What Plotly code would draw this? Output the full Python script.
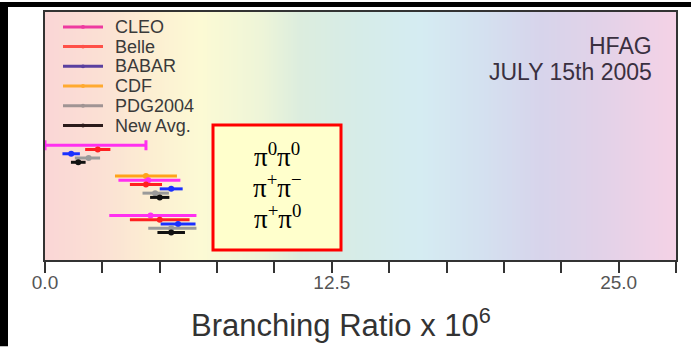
import numpy as np
import plotly.graph_objects as go

# ---- data: B -> pi pi branching ratios (x 10^-6) ----
modes = ["π<sup>0</sup>π<sup>0</sup>", "π<sup>+</sup>π<sup>−</sup>", "π<sup>+</sup>π<sup>0</sup>"]
experiments = ["CLEO", "Belle", "BABAR", "CDF", "PDG2004", "New Avg."]

cleo_val = [None, 4.5, 4.6]
cleo_plus = [0, 1.4, 2.0]
cleo_minus = [0, 1.3, 1.8]
cleo_pi0pi0_limit = 4.4  # upper limit

belle_val = [2.3, 4.4, 5.0]
belle_err = [0.55, 0.7, 1.3]

babar_val = [1.14, 5.5, 5.8]
babar_err = [0.38, 0.5, 0.76]

cdf_val = [None, 4.4, None]
cdf_err = [0, 1.35, 0]

pdg_val = [1.9, 4.8, 5.5]
pdg_plus = [0.5, 0.6, 1.1]
pdg_minus = [0.6, 0.55, 1.0]

avg_val = [1.45, 5.0, 5.5]
avg_err = [0.32, 0.42, 0.6]

# ---- page geometry (pixels) ----
W, H = 691, 347
L, R, T, B = 45, 676, 10, 260
XMAX = 27.5


def px(xp):
    return (xp - L) / (R - L)


def py(yp):
    return (B - yp) / (B - T)


# vertical placement of rows inside each decay-mode block
FIRST_ROW, GROUP_GAP, ROW_GAP = 134.3, 35.4, 4.3
slot = {"CDF": -1, "CLEO": 0, "Belle": 1, "BABAR": 2, "PDG2004": 3, "New Avg.": 4}


def rows(name):
    return [FIRST_ROW + g * GROUP_GAP + slot[name] * ROW_GAP for g in range(len(modes))]


data_colors = {"CLEO": "#ff30f0", "Belle": "#ff2020", "BABAR": "#1a30ff",
               "CDF": "#ffa31a", "PDG2004": "#9a9a9a", "New Avg.": "#111111"}
legend_colors = {"CLEO": "#ee3aa0", "Belle": "#ff5048", "BABAR": "#5a40a0",
                 "CDF": "#ffaa30", "PDG2004": "#a09494", "New Avg.": "#2a1a1a"}

fig = go.Figure()

# pastel rainbow backdrop across the plotting area
bg_stops = [(0.0, (250, 214, 214)), (2.4, (251, 224, 212)), (4.6, (252, 238, 210)),
            (6.75, (252, 250, 212)), (9.4, (238, 245, 216)), (11.1, (220, 237, 222)),
            (13.7, (214, 236, 232)), (16.3, (213, 236, 242)), (19.0, (212, 225, 240)),
            (21.6, (215, 212, 235)), (24.2, (226, 210, 232)), (27.5, (245, 210, 230))]
cscale = [[v / XMAX, "rgb(%d,%d,%d)" % c] for v, c in bg_stops]
bx = np.linspace(0, XMAX, 221)
fig.add_trace(go.Heatmap(x=bx, y=[-10, 260], z=[bx, bx], colorscale=cscale,
                         zmin=0, zmax=XMAX, zsmooth="best", showscale=False,
                         hoverinfo="skip"))


def add_meas(name, vals, plus, minus):
    fig.add_trace(go.Scatter(
        x=vals, y=rows(name), mode="markers", showlegend=False,
        marker=dict(size=6, color=data_colors[name]),
        error_x=dict(type="data", symmetric=False, array=plus, arrayminus=minus,
                     thickness=3, width=0, color=data_colors[name])))


# CLEO pi0 pi0 upper limit: bar from zero with an end cap
fig.add_trace(go.Scatter(
    x=[0], y=[rows("CLEO")[0]], mode="markers", showlegend=False,
    marker=dict(size=1, color=data_colors["CLEO"]),
    error_x=dict(type="data", symmetric=False, array=[cleo_pi0pi0_limit], arrayminus=[0],
                 thickness=3, width=5, color=data_colors["CLEO"])))

add_meas("CDF", cdf_val, cdf_err, cdf_err)
add_meas("CLEO", cleo_val, cleo_plus, cleo_minus)
add_meas("Belle", belle_val, belle_err, belle_err)
add_meas("BABAR", babar_val, babar_err, babar_err)
add_meas("PDG2004", pdg_val, pdg_plus, pdg_minus)
add_meas("New Avg.", avg_val, avg_err, avg_err)

shapes = []
annotations = []

# legend block in the upper-left corner
for i, name in enumerate(experiments):
    yy = 25 + i * 19.9
    shapes.append(dict(type="line", xref="paper", yref="paper",
                       x0=px(63), x1=px(103), y0=py(yy), y1=py(yy),
                       line=dict(color=legend_colors[name], width=3)))
    shapes.append(dict(type="circle", xref="paper", yref="paper",
                       x0=px(81), x1=px(85), y0=py(yy + 2), y1=py(yy - 2),
                       fillcolor=legend_colors[name], line=dict(width=0)))
    annotations.append(dict(text=name, xref="paper", yref="paper", x=px(113), y=py(yy),
                            xanchor="left", yanchor="middle", showarrow=False,
                            font=dict(family="Liberation Sans", size=18, color="#3a3a3a")))

# decay-mode key box
shapes.append(dict(type="rect", xref="paper", yref="paper",
                   x0=px(213), x1=px(341), y0=py(250), y1=py(124),
                   fillcolor="#ffffcc", line=dict(color="#ff0000", width=3)))
for i, m in enumerate(modes):
    annotations.append(dict(text=m, xref="paper", yref="paper", x=px(277), y=py(154 + i * 31.5),
                            xanchor="center", yanchor="middle", showarrow=False,
                            font=dict(family="Liberation Serif", size=27, color="#000000")))

# stamp
annotations.append(dict(text="HFAG", xref="paper", yref="paper", x=px(654), y=py(44),
                        xanchor="right", yanchor="middle", showarrow=False,
                        font=dict(family="Liberation Sans", size=23, color="#3a3040")))
annotations.append(dict(text="JULY 15th 2005", xref="paper", yref="paper", x=px(654), y=py(70),
                        xanchor="right", yanchor="middle", showarrow=False,
                        font=dict(family="Liberation Sans", size=23, color="#3a3040")))

# axis title
annotations.append(dict(text="Branching Ratio x 10<sup>6</sup>", xref="paper", yref="paper",
                        x=px(341), y=py(324), xanchor="center", yanchor="middle",
                        showarrow=False,
                        font=dict(family="Liberation Sans", size=31, color="#333333")))

# dark page edges
shapes.append(dict(type="rect", xref="paper", yref="paper", x0=px(0), x1=px(8),
                   y0=py(H), y1=py(0), fillcolor="#000000", line=dict(width=0)))
shapes.append(dict(type="rect", xref="paper", yref="paper", x0=px(0), x1=px(W),
                   y0=py(5), y1=py(0), fillcolor="#000000", line=dict(width=0)))

fig.update_layout(
    width=W, height=H,
    margin=dict(l=L, r=W - R, t=T, b=H - B),
    paper_bgcolor="#ffffff", plot_bgcolor="#ffffff",
    shapes=shapes, annotations=annotations,
    xaxis=dict(range=[0, XMAX], tickvals=[0, 12.5, 25], ticktext=["0.0", "12.5", "25.0"],
               ticks="outside", ticklen=11, tickwidth=2, tickcolor="#333333",
               ticklabelstandoff=-7,
               minor=dict(dtick=2.5, tick0=0, ticks="outside", ticklen=11, tickwidth=2,
                          tickcolor="#333333"),
               showline=True, linecolor="#333333", linewidth=2, mirror=True,
               showgrid=False, zeroline=False,
               tickfont=dict(family="Liberation Sans", size=19, color="#555555")),
    yaxis=dict(range=[250, 0], showticklabels=False, ticks="", showgrid=False,
               zeroline=False, showline=True, linecolor="#333333", linewidth=2, mirror=True),
    showlegend=False,
)

fig.write_html("out.html")
